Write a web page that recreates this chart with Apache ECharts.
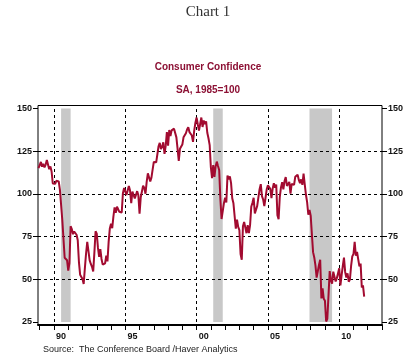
<!DOCTYPE html>
<html>
<head>
<meta charset="utf-8">
<title>Consumer Confidence</title>
<script src="https://cdn.jsdelivr.net/npm/echarts@6/dist/echarts.min.js"></script>
<style>
  html, body { margin: 0; padding: 0; background: #fff; }
  #chart { width: 416px; height: 354px; }
</style>
</head>
<body>
<div id="chart"></div>
<script>
  // monthly values, SA 1985=100, first point is Dec 1988
  var startYear = 1988;
  var startMonth = 11; // 0-based, Dec
  var cc1988 = [115.1];
  var cc1989 = [115.2, 118.7, 115.9, 117.6, 115.5, 117.2, 119.9, 119.8, 114.5, 116.1, 113.1, 106.1];
  var cc1990 = [106.9, 105.9, 107.7, 107.9, 107.3, 102.4, 101.7, 84.7, 85.6, 62.6, 61.7, 61.2];
  var cc1991 = [55.1, 59.4, 81.1, 79.4, 76.4, 78.0, 77.7, 76.1, 72.9, 60.1, 52.7, 52.5];
  var cc1992 = [50.2, 47.3, 56.5, 65.1, 71.9, 72.6, 61.2, 59.0, 57.3, 54.6, 65.6, 78.1];
  var cc1993 = [76.7, 68.5, 63.2, 67.6, 61.9, 58.6, 59.2, 59.3, 63.8, 60.5, 71.9, 79.8];
  var cc1994 = [82.6, 79.9, 86.7, 92.1, 88.9, 92.5, 92.1, 89.5, 89.1, 89.1, 100.4, 103.4];
  var cc1995 = [101.4, 99.4, 100.2, 104.6, 102.0, 94.6, 101.4, 102.4, 97.3, 96.3, 101.6, 99.2];
  var cc1996 = [88.4, 98.0, 98.4, 104.8, 103.5, 100.1, 107.0, 112.0, 111.8, 107.3, 109.5, 114.2];
  var cc1997 = [118.7, 118.9, 118.5, 118.5, 127.9, 129.9, 126.3, 127.6, 130.2, 123.4, 128.1, 136.2];
  var cc1998 = [128.3, 137.4, 133.8, 137.2, 136.3, 138.2, 137.2, 133.1, 126.4, 119.3, 126.4, 126.7];
  var cc1999 = [128.9, 133.1, 134.0, 135.5, 137.7, 139.0, 136.2, 136.0, 134.2, 130.5, 137.0, 141.7];
  var cc2000 = [144.7, 140.8, 137.1, 137.7, 144.7, 139.2, 143.0, 140.8, 142.5, 135.8, 132.6, 128.6];
  var cc2001 = [115.7, 109.2, 116.9, 109.9, 116.1, 118.9, 116.3, 114.0, 97.0, 85.3, 84.9, 94.6];
  var cc2002 = [97.8, 95.0, 110.7, 108.5, 110.3, 106.3, 97.4, 94.5, 93.7, 79.6, 84.9, 80.7];
  var cc2003 = [78.8, 64.8, 61.4, 81.0, 83.6, 83.5, 77.0, 81.7, 77.0, 81.7, 92.5, 94.8];
  var cc2004 = [97.7, 88.5, 88.5, 93.0, 93.1, 102.8, 105.7, 98.7, 96.7, 92.9, 92.6, 102.7];
  var cc2005 = [105.1, 104.4, 103.0, 97.5, 103.1, 106.2, 103.6, 105.5, 87.5, 85.2, 98.3, 103.8];
  var cc2006 = [106.8, 102.7, 107.5, 109.8, 104.7, 105.4, 107.0, 100.2, 105.9, 105.1, 105.3, 110.0];
  var cc2007 = [110.2, 111.2, 108.2, 106.3, 108.5, 105.3, 111.9, 105.6, 99.5, 95.2, 87.8, 90.6];
  var cc2008 = [87.3, 76.4, 65.9, 62.8, 58.1, 51.0, 51.9, 58.5, 61.4, 38.8, 44.7, 38.6];
  var cc2009 = [37.4, 25.3, 26.9, 40.8, 54.8, 49.3, 47.4, 54.5, 53.4, 48.7, 50.6, 53.6];
  var cc2010 = [56.5, 46.4, 52.3, 57.7, 62.7, 54.3, 51.0, 53.5, 48.6, 49.9, 57.8, 63.4];
  var cc2011 = [64.8, 72.0, 63.8, 66.0, 61.7, 57.6, 59.2, 45.2, 46.4, 39.8];

  // recessions as [start, end] in decimal years
  var recessions = [[1990.5, 1991.1667], [2001.1667, 2001.8333], [2007.9167, 2009.5]];

  var yTicks = [25, 50, 75, 100, 125, 150];
  var yGrid = [50, 75, 100, 125];
  var xGrid = [1990, 1995, 2000, 2005, 2010];
  var xTickYears = [1989, 1990, 1991, 1992, 1993, 1994, 1995, 1996, 1997, 1998, 1999, 2000,
    2001, 2002, 2003, 2004, 2005, 2006, 2007, 2008, 2009, 2010, 2011, 2012, 2013];
  var xLabelYears = [1990, 1995, 2000, 2005, 2010];

  var X_MIN = 1988.88, X_MAX = 2013;
  var RED = '#a20b30';

  var values = [].concat(cc1988, cc1989, cc1990, cc1991, cc1992, cc1993, cc1994, cc1995, cc1996,
    cc1997, cc1998, cc1999, cc2000, cc2001, cc2002, cc2003, cc2004, cc2005, cc2006, cc2007,
    cc2008, cc2009, cc2010, cc2011);
  var lineData = values.map(function (v, i) {
    return [startYear + (startMonth + i) / 12, v];
  });

  var chart = echarts.init(document.getElementById('chart'));

  var gridLines = [];
  yGrid.forEach(function (v) { gridLines.push({ yAxis: v }); });
  xGrid.forEach(function (v) { gridLines.push({ xAxis: v }); });

  var labelFont = { fontFamily: 'Liberation Sans', fontWeight: 'bold', fontSize: 9, color: '#111' };

  var option = {
    animation: false,
    backgroundColor: '#fff',
    title: [
      { text: 'Chart 1', left: 'center', top: 0,
        textStyle: { fontFamily: 'Liberation Serif', fontWeight: 'normal', fontSize: 15, color: '#333' } },
      { text: 'Consumer Confidence', left: 'center', top: 57,
        textStyle: { fontFamily: 'Liberation Sans', fontWeight: 'bold', fontSize: 10, color: '#8c1034' } },
      { text: 'SA, 1985=100', left: 'center', top: 80,
        textStyle: { fontFamily: 'Liberation Sans', fontWeight: 'bold', fontSize: 10, color: '#8c1034' } },
      { text: 'Source:  The Conference Board /Haver Analytics', left: 38, top: 340,
        textStyle: { fontFamily: 'Liberation Sans', fontWeight: 'normal', fontSize: 9, color: '#222' } }
    ],
    grid: [
      { left: 38, right: 34, top: 108.5, bottom: 32 },
      { left: 38, right: 34, top: 105.5, bottom: 29, show: true, borderColor: '#000', borderWidth: 1,
        backgroundColor: 'transparent', z: 0 }
    ],
    xAxis: [
      { type: 'value', gridIndex: 0, min: X_MIN, max: X_MAX, show: false },
      { type: 'value', gridIndex: 1, min: X_MIN, max: X_MAX, position: 'bottom',
        axisLine: { show: true, lineStyle: { color: '#000', width: 2 } },
        axisTick: { show: true, length: 5, lineStyle: { color: '#000' }, customValues: xTickYears },
        axisLabel: Object.assign({
          show: true, margin: 7,
          customValues: xLabelYears.map(function (y) { return y + 0.5; }),
          formatter: function (v) { return String(Math.floor(v)).slice(2); }
        }, labelFont),
        splitLine: { show: false } }
    ],
    yAxis: [
      { type: 'value', gridIndex: 0, position: 'left', min: yTicks[0], max: yTicks[yTicks.length - 1], interval: 25,
        axisLine: { show: false },
        axisTick: { show: true, length: 5, lineStyle: { color: '#000' } },
        axisLabel: Object.assign({ margin: 6 }, labelFont),
        splitLine: { show: false } },
      { type: 'value', gridIndex: 0, position: 'right', min: yTicks[0], max: yTicks[yTicks.length - 1], interval: 25,
        axisLine: { show: false },
        axisTick: { show: true, length: 5, lineStyle: { color: '#000' } },
        axisLabel: Object.assign({ margin: 6 }, labelFont),
        splitLine: { show: false } },
      { type: 'value', gridIndex: 1, min: 0, max: 1, show: false }
    ],
    series: [
      {
        name: 'recessions', type: 'line', xAxisIndex: 0, yAxisIndex: 0, data: [], silent: true,
        markArea: {
          silent: true,
          itemStyle: { color: '#c8c8c8' },
          data: recessions.map(function (r) { return [{ xAxis: r[0] }, { xAxis: r[1] }]; })
        }
      },
      {
        name: 'grid', type: 'line', xAxisIndex: 0, yAxisIndex: 0, data: [], silent: true,
        markLine: {
          silent: true, symbol: 'none', label: { show: false },
          lineStyle: { color: '#000', width: 1, type: [3, 3] },
          data: gridLines
        }
      },
      {
        name: 'Consumer Confidence', type: 'line', xAxisIndex: 0, yAxisIndex: 0,
        data: lineData, showSymbol: false, symbol: 'none',
        lineStyle: { color: RED, width: 2 },
        z: 5
      }
    ]
  };
  chart.setOption(option);
</script>
</body>
</html>
